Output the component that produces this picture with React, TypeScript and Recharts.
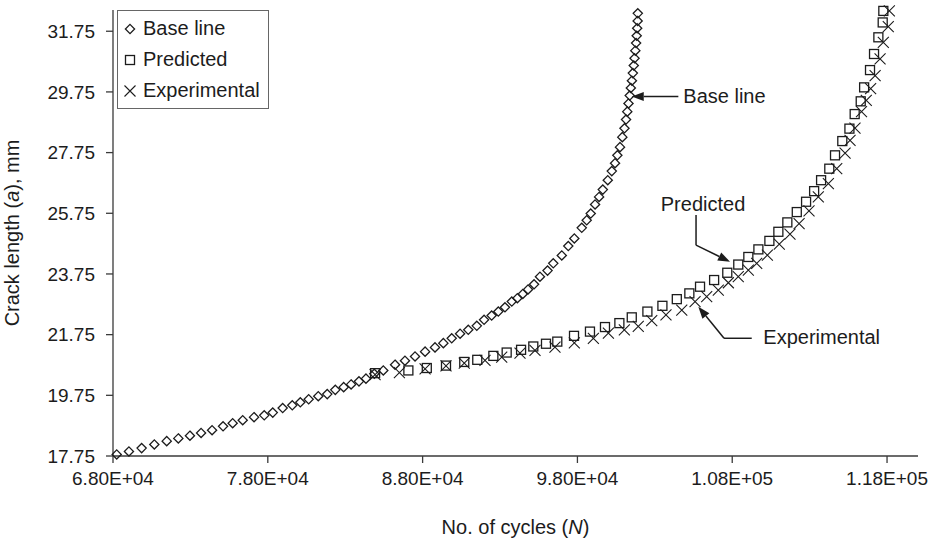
import React from 'react';
import { ScatterChart, Scatter, XAxis, YAxis, Legend, Label, ReferenceLine, ReferenceDot } from 'recharts';

// crack growth readings: cycles (N) and crack length (a, mm)
const baseCycles = [68240, 69030, 69850, 70670, 71470, 72220, 72970, 73690, 74400, 75110, 75730, 76380, 77110, 77770, 78320, 78960, 79580, 80100, 80640, 81260, 81840, 82360, 82900, 83380, 83890, 84340, 84880, 85460, 86220, 86860, 87510, 88160, 88800, 89340, 89880, 90420, 90950, 91500, 91970, 92460, 92890, 93320, 93760, 94120, 94470, 94810, 95200, 95580, 96070, 96440, 96990, 97410, 97800, 98280, 98600, 98860, 99140, 99400, 99640, 99960, 100220, 100430, 100580, 100750, 100900, 101040, 101140, 101220, 101300, 101380, 101450, 101520, 101580, 101640, 101690, 101740, 101790, 101830, 101860, 101890, 101900];
const baseCrack = [17.8, 17.9, 18.01, 18.13, 18.24, 18.33, 18.42, 18.51, 18.6, 18.73, 18.83, 18.93, 19.03, 19.09, 19.18, 19.33, 19.42, 19.52, 19.62, 19.72, 19.79, 19.93, 20.02, 20.11, 20.21, 20.3, 20.46, 20.57, 20.76, 20.89, 21.03, 21.19, 21.33, 21.47, 21.63, 21.78, 21.91, 22.04, 22.24, 22.38, 22.51, 22.65, 22.84, 22.95, 23.09, 23.24, 23.41, 23.66, 23.86, 24.1, 24.36, 24.67, 24.92, 25.27, 25.52, 25.74, 26.04, 26.29, 26.53, 26.84, 27.14, 27.4, 27.66, 27.93, 28.26, 28.55, 28.84, 29.1, 29.37, 29.63, 29.88, 30.12, 30.37, 30.62, 30.86, 31.11, 31.36, 31.6, 31.85, 32.09, 32.34];

const predCycles = [84930, 87080, 88270, 89510, 90690, 91530, 92570, 93430, 94360, 95150, 95970, 96700, 97780, 98810, 99780, 100710, 101510, 102520, 103490, 104420, 105230, 105920, 106830, 107680, 108390, 109040, 109690, 110400, 110980, 111560, 112170, 112770, 113290, 113740, 114270, 114640, 115110, 115570, 115910, 116300, 116520, 116900, 117160, 117440, 117720, 117760];
const predCrack = [20.48, 20.57, 20.65, 20.73, 20.85, 20.92, 21.05, 21.16, 21.25, 21.36, 21.45, 21.52, 21.71, 21.85, 22.0, 22.13, 22.32, 22.51, 22.7, 22.92, 23.11, 23.33, 23.55, 23.79, 24.06, 24.31, 24.56, 24.84, 25.14, 25.45, 25.79, 26.13, 26.48, 26.84, 27.22, 27.66, 28.13, 28.54, 29.02, 29.44, 29.9, 30.47, 31.0, 31.55, 32.04, 32.42];

const expCycles = [84930, 86500, 88160, 89510, 90690, 92030, 93110, 94290, 95260, 96550, 97800, 99030, 100000, 101030, 101930, 102800, 103720, 104740, 105600, 106350, 107100, 107750, 108390, 109040, 109580, 110270, 111040, 111730, 112320, 112960, 113560, 114210, 114750, 115290, 115610, 115930, 116350, 116660, 116940, 117230, 117550, 117760, 118080, 118150];
const expCrack = [20.43, 20.5, 20.62, 20.72, 20.81, 20.9, 21.01, 21.14, 21.23, 21.34, 21.48, 21.63, 21.8, 21.91, 22.02, 22.21, 22.4, 22.56, 22.84, 23.0, 23.22, 23.46, 23.66, 23.88, 24.1, 24.37, 24.73, 25.06, 25.41, 25.83, 26.29, 26.73, 27.22, 27.73, 28.15, 28.56, 29.1, 29.47, 29.86, 30.29, 30.84, 31.38, 31.9, 32.42];

const xTicks = [68000, 78000, 88000, 98000, 108000, 118000];
const yTicks = [17.75, 19.75, 21.75, 23.75, 25.75, 27.75, 29.75, 31.75];
const seriesNames = ['Base line', 'Predicted', 'Experimental'];

const toPoints = (n: number[], a: number[]) => n.map((v, i) => ({ n: v, a: a[i] }));
const baseData = toPoints(baseCycles, baseCrack);
const predData = toPoints(predCycles, predCrack);
const expData = toPoints(expCycles, expCrack);

const INK = '#1c1c1c';
const AXIS = '#3a3a3a';
const FONT = '"Liberation Sans", Arial, sans-serif';

// excel style 6.80E+04
const sci = (v: number) => {
  const [m, e] = v.toExponential(2).split('e');
  const sign = e[0] === '-' ? '-' : '+';
  return `${m}E${sign}${e.replace(/[+-]/, '').padStart(2, '0')}`;
};

const Diamond = ({ cx, cy }: any) => {
  const r = 4.6;
  return <path d={`M${cx},${cy - r}L${cx + r},${cy}L${cx},${cy + r}L${cx - r},${cy}Z`} fill="none" stroke={INK} strokeWidth={1.3} />;
};
const Square = ({ cx, cy }: any) => (
  <rect x={cx - 4.5} y={cy - 4.5} width={9} height={9} fill="none" stroke={INK} strokeWidth={1.3} />
);
const Cross = ({ cx, cy }: any) => {
  const r = 5.5;
  return <path d={`M${cx - r},${cy - r}L${cx + r},${cy + r}M${cx - r},${cy + r}L${cx + r},${cy - r}`} stroke={INK} strokeWidth={1.1} />;
};
const markers = [Diamond, Square, Cross];

const LegendBox = () => (
  <div style={{ border: `1px solid #666`, background: '#fff', padding: '2px 8px 2px 5px', fontFamily: FONT, fontSize: 20, color: INK, lineHeight: '31px' }}>
    {seriesNames.map((name, i) => {
      const M = markers[i];
      return (
        <div key={name} style={{ display: 'flex', alignItems: 'center' }}>
          <svg width={14} height={14}><M cx={7} cy={7} /></svg>
          <span style={{ marginLeft: 6 }}>{name}</span>
        </div>
      );
    })}
  </div>
);

// callout arrows in data units
const ArrowLine = ({ x1, y1, x2, y2 }: any) => {
  const ang = Math.atan2(y2 - y1, x2 - x1);
  const len = 12, half = 4.5;
  const bx = x2 - len * Math.cos(ang), by = y2 - len * Math.sin(ang);
  const px = -Math.sin(ang) * half, py = Math.cos(ang) * half;
  return (
    <g>
      <line x1={x1} y1={y1} x2={bx} y2={by} stroke={INK} strokeWidth={1.5} />
      <polygon points={`${x2},${y2} ${bx + px},${by + py} ${bx - px},${by - py}`} fill={INK} />
    </g>
  );
};
const PlainLine = ({ x1, y1, x2, y2 }: any) => <line x1={x1} y1={y1} x2={x2} y2={y2} stroke={INK} strokeWidth={1.5} />;

const calloutSegments = [
  { from: [104519, 29.6], to: [101508, 29.6], arrow: true },
  { from: [105662, 25.69], to: [105662, 24.7], arrow: false },
  { from: [105662, 24.7], to: [107858, 24.15], arrow: true },
  { from: [109260, 21.63], to: [107471, 21.63], arrow: false },
  { from: [107471, 21.63], to: [105810, 22.67], arrow: true },
];
const calloutLabels = [
  { text: 'Base line', n: 104841, a: 29.6, anchor: 'start' },
  { text: 'Predicted', n: 106114, a: 26.07, anchor: 'middle' },
  { text: 'Experimental', n: 110009, a: 21.68, anchor: 'start' },
];

const XTitle = ({ viewBox }: any) => (
  <text x={viewBox.x + viewBox.width / 2} y={viewBox.y + 78} textAnchor="middle" fontFamily={FONT} fontSize={20} fill={INK}>
    No. of cycles (<tspan fontStyle="italic">N</tspan>)
  </text>
);
const YTitle = () => (
  <text x={12} y={233} transform="rotate(-90, 12, 233)" textAnchor="middle" dominantBaseline="central" fontFamily={FONT} fontSize={20} fill={INK}>
    Crack length (<tspan fontStyle="italic">a</tspan>), mm
  </text>
);

export default function App() {
  const tick = { fontFamily: FONT, fontSize: 19, fill: INK };
  return (
    <div style={{ position: 'absolute', left: 0, top: 0, width: 930, height: 543, background: '#fff' }}>
      <ScatterChart width={930} height={543} margin={{ top: 10, right: 12, left: 0, bottom: 0 }}>
        <XAxis
          type="number"
          dataKey="n"
          domain={[68000, 120000]}
          ticks={xTicks}
          tickFormatter={sci}
          height={87}
          tickSize={7}
          tickMargin={9}
          tick={tick}
          stroke={AXIS}
          strokeWidth={1.3}
        >
          <Label content={XTitle} />
        </XAxis>
        <YAxis
          type="number"
          dataKey="a"
          domain={[17.75, 32.45]}
          ticks={yTicks}
          tickFormatter={(v: number) => v.toFixed(2)}
          width={113}
          tickSize={7}
          tickMargin={11}
          tick={tick}
          stroke={AXIS}
          strokeWidth={1.3}
        >
          <Label content={YTitle} />
        </YAxis>
        <Legend
          layout="vertical"
          align="center"
          verticalAlign="middle"
          content={LegendBox}
          wrapperStyle={{ left: 117, top: 10, width: 'auto', height: 'auto' }}
        />
        <Scatter name={seriesNames[0]} data={baseData} shape={Diamond} isAnimationActive={false} />
        <Scatter name={seriesNames[1]} data={predData} shape={Square} isAnimationActive={false} />
        <Scatter name={seriesNames[2]} data={expData} shape={Cross} isAnimationActive={false} />
        {calloutSegments.map((s, i) => (
          <ReferenceLine
            key={`seg${i}`}
            segment={[{ x: s.from[0], y: s.from[1] }, { x: s.to[0], y: s.to[1] }]}
            shape={s.arrow ? ArrowLine : PlainLine}
            ifOverflow="visible"
          />
        ))}
        {calloutLabels.map((c) => (
          <ReferenceDot
            key={c.text}
            x={c.n}
            y={c.a}
            r={0}
            ifOverflow="visible"
            shape={({ cx, cy }: any) => (
              <text x={cx} y={cy} textAnchor={c.anchor as any} dominantBaseline="central" fontFamily={FONT} fontSize={20} fill={INK}>
                {c.text}
              </text>
            )}
          />
        ))}
      </ScatterChart>
    </div>
  );
}
